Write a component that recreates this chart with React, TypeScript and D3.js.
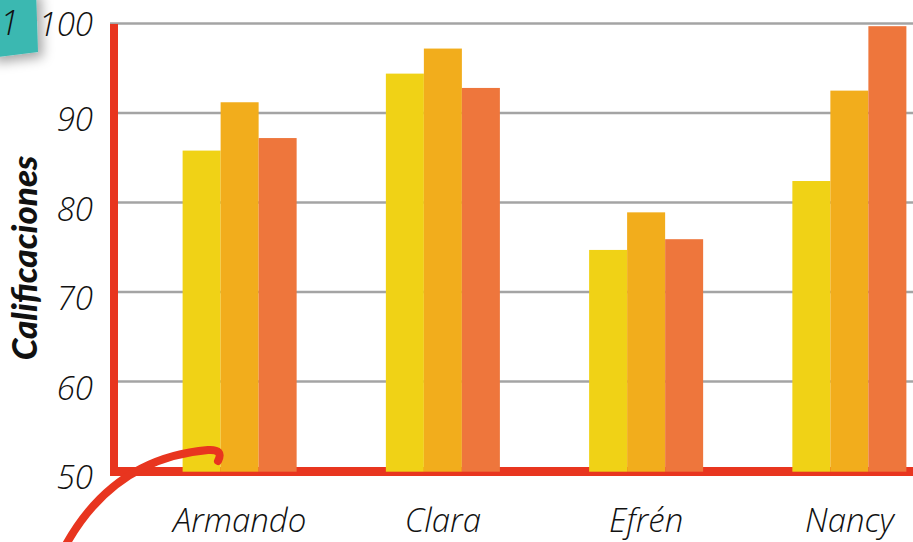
import React, { useEffect } from "react";
import * as d3 from "d3";

const categories = ["Armando", "Clara", "Efrén", "Nancy"];
const seriesKeys = ["s1", "s2", "s3"];
const series1 = [85.8, 94.4, 74.7, 82.4];
const series2 = [91.2, 97.2, 78.9, 92.5];
const series3 = [87.2, 92.8, 75.9, 99.7];
const yTicks = [50, 60, 70, 80, 90, 100];
const yLabel = "Calificaciones";
const noteText = "1";

const W = 913;
const H = 542;
const colors = ["#F0D216", "#F2AD1C", "#EE763C"];
const RED = "#E8351F";

export default function App() {
  useEffect(() => {
    document.body.style.margin = "0";
  }, []);

  const y = d3.scaleLinear().domain([50, 100]).range([471, 23.5]);
  const x0 = d3
    .scaleBand<string>()
    .domain(categories)
    .range([138, 951])
    .paddingInner(0.439)
    .paddingOuter(0.2195);
  const x1 = d3
    .scaleBand<string>()
    .domain(seriesKeys)
    .range([0, x0.bandwidth()])
    .padding(0);

  const values = [series1, series2, series3];
  const tickFont = "'Open Sans', 'DejaVu Sans', sans-serif";

  const curve = "M 62 552 C 92 494, 138 456, 208 450 Q 224 449 218 461";

  return (
    <svg width={W} height={H} style={{ display: "block", background: "#fff" }}>
      <defs>
        <filter id="shadow" x="-50%" y="-50%" width="200%" height="200%">
          <feDropShadow dx="5" dy="5" stdDeviation="6" floodColor="#000" floodOpacity="0.35" />
        </filter>
      </defs>

      {/* sticky note */}
      <g filter="url(#shadow)">
        <polygon points="-10,-10 36,-10 38,52 -10,58" fill="#3AB8B1" />
      </g>
      <text
        x={0}
        y={35}
        fontFamily={tickFont}
        fontStyle="italic"
        fontWeight={300}
        fontSize={34}
        fill="#111"
      >
        {noteText}
      </text>

      {/* gridlines */}
      {yTicks
        .filter((t) => t > 50)
        .map((t) => (
          <line
            key={t}
            x1={110}
            x2={W}
            y1={y(t)}
            y2={y(t)}
            stroke="#A4A4A4"
            strokeWidth={2.5}
          />
        ))}

      {/* red axes */}
      <rect x={110} y={24} width={8} height={452} fill={RED} />
      <rect x={110} y={467} width={W - 110} height={9} fill={RED} />

      {/* bars */}
      {categories.map((c, i) => (
        <g key={c} transform={`translate(${x0(c)},0)`}>
          {seriesKeys.map((k, j) => (
            <rect
              key={k}
              x={x1(k)}
              y={y(values[j][i])}
              width={x1.bandwidth()}
              height={y(50) + 0.7 - y(values[j][i])}
              fill={colors[j]}
            />
          ))}
        </g>
      ))}

      {/* y tick labels */}
      {yTicks.map((t) => (
        <text
          key={t}
          x={93}
          y={y(t) + (t === 100 ? 12 : 18)}
          textAnchor="end"
          fontFamily={tickFont}
          fontStyle="italic"
          fontWeight={300}
          fontSize={33}
          fill="#111"
        >
          {t}
        </text>
      ))}

      {/* category labels */}
      {categories.map((c) => (
        <text
          key={c}
          x={(x0(c) as number) + x0.bandwidth() / 2}
          y={532}
          textAnchor="middle"
          fontFamily={tickFont}
          fontStyle="italic"
          fontWeight={300}
          fontSize={33}
          fill="#111"
        >
          {c}
        </text>
      ))}

      {/* y axis title */}
      <text
        transform={`translate(37,258) rotate(-90)`}
        textAnchor="middle"
        fontFamily="Lato, 'Open Sans', sans-serif"
        fontStyle="italic"
        fontWeight={900}
        fontSize={35}
        fill="#111"
      >
        {yLabel}
      </text>

      {/* decorative red curve */}
      <path d={curve} fill="none" stroke={RED} strokeWidth={8} strokeLinecap="round" />
    </svg>
  );
}
